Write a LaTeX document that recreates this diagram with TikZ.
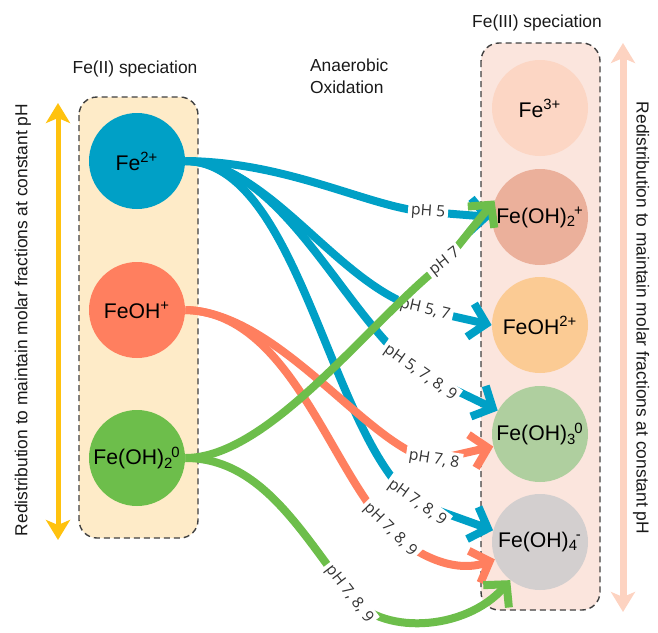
\documentclass[tikz,border=0pt]{standalone}
\usepackage{fontspec}
\setmainfont{Liberation Sans}
\newfontfamily\phfont{Open Sans}
\usetikzlibrary{arrows.meta}
\newcommand{\subsup}[2]{\textsubscript{#1}\kern-0.1em\textsuperscript{#2}}
\definecolor{fetwo}{HTML}{00A0C6}
\definecolor{fetwooh}{HTML}{FF7F5F}
\definecolor{fetwoohtwo}{HTML}{6DBE4B}
\definecolor{fethree}{HTML}{FCD6C4}
\definecolor{fethreeohtwo}{HTML}{EBB09B}
\definecolor{fethreeoh}{HTML}{FBCB94}
\definecolor{fethreeohthree}{HTML}{AFCF9F}
\definecolor{fethreeohfour}{HTML}{D3CFCF}
\definecolor{leftbox}{HTML}{FEEBC8}
\definecolor{rightbox}{HTML}{FBE5DD}
\definecolor{sideyellow}{HTML}{FFC20E}
\definecolor{sidepink}{HTML}{FDD3C1}

\begin{document}
\begin{tikzpicture}[x=0.5pt,y=-0.5pt,
  species/.style={circle,minimum size=48pt,inner sep=0pt,font=\fontsize{10.6}{12}\selectfont},
  groupbox/.style={draw=black!75,dash pattern=on 3pt off 2pt,line width=0.7pt,rounded corners=9pt},
  flow/.style={line width=4pt,-{Straight Barb[length=8pt,width=17pt]}},
  phlabel/.style={fill=white,inner sep=1.5pt,sloped,pos=1,text=black!80,font=\phfont\fontsize{7.8}{8}\selectfont},
  title/.style={text=black!90,font=\fontsize{8.7}{11}\selectfont},
  sidearrow/.style={line width=2.5pt,{Stealth[length=10pt,width=12pt,inset=2.5pt]}-{Stealth[length=10pt,width=12pt,inset=2.5pt]}}]
  \useasboundingbox (0,0) rectangle (658,632);

  \draw[groupbox,fill=leftbox] (79,97) rectangle (198,538);
  \draw[groupbox,fill=rightbox] (481,43) rectangle (600,610);

  \node[title] (lefttitle) at (135,69) {Fe(II) speciation};
  \node[title,align=left,anchor=west] (oxtitle) at (303,76) {Anaerobic\\Oxidation};
  \node[title] (righttitle) at (537,23) {Fe(III) speciation};

  \node[species,fill=fetwo] (fe2) at (137,161) {Fe\textsuperscript{2+}};
  \node[species,fill=fetwooh] (fe2oh) at (137,310) {FeOH\textsuperscript{+}};
  \node[species,fill=fetwoohtwo] (fe2oh2) at (137,458) {Fe(OH)\subsup{2}{0}};

  \node[species,fill=fethree] (fe3) at (540,108) {Fe\textsuperscript{3+}};
  \node[species,fill=fethreeohtwo] (fe3oh2) at (540,217) {Fe(OH)\subsup{2}{+}};
  \node[species,fill=fethreeoh] (fe3oh) at (540,325) {FeOH\textsuperscript{2+}};
  \node[species,fill=fethreeohthree] (fe3oh3) at (540,434) {Fe(OH)\subsup{3}{0}};
  \node[species,fill=fethreeohfour] (fe3oh4) at (540,542) {Fe(OH)\subsup{4}{-}};

  \coordinate (ltop) at (58,103);
  \coordinate (lbot) at (58,540);
  \draw[sidearrow,color=sideyellow] (ltop) -- (lbot);
  \node[title,rotate=90] (lefttext) at (23,320) {Redistribution to maintain molar fractions at constant pH};
  \coordinate (rtop) at (623,43);
  \coordinate (rbot) at (623,612);
  \draw[sidearrow,line width=3.5pt,color=sidepink] (rtop) -- (rbot);
  \node[title,rotate=-90] (righttext) at (641,318) {Redistribution to maintain molar fractions at constant pH};

  \draw[flow,fetwo] (fe2.east) .. controls (290,162) and (370,208) .. (428,212) node[phlabel] {pH 5} -- (fe3oh2.west);
  \draw[flow,fetwo] (fe2.east) .. controls (270,162) and (340,290) .. (425,310) node[phlabel] {pH 5, 7} -- (fe3oh.west);
  \draw[flow,fetwo] (fe2.east) .. controls (285,162) and (345,320) .. (420,373) node[phlabel] {pH 5, 7, 8, 9} -- (fe3oh3.151);
  \draw[flow,fetwo] (fe2.east) .. controls (300,162) and (330,440) .. (417,503) node[phlabel] {pH 7, 8, 9} -- (fe3oh4.166);

  \draw[flow,fetwooh] (fe2oh.east) .. controls (280,312) and (370,450) .. (434,460) node[phlabel] {pH 7, 8} -- (fe3oh3.195);
  \draw[flow,fetwooh] (fe2oh.east) .. controls (290,312) and (330,470) .. (390,530) node[phlabel] {pH 7, 8, 9} .. controls (415,555) and (455,574) .. (fe3oh4.201);

  \draw[flow,fetwoohtwo] (fe2oh2.east) .. controls (270,458) and (370,320) .. (445,262) node[phlabel] {pH 7} -- (fe3oh2.160);
  \draw[flow,fetwoohtwo] (fe2oh2.east) .. controls (260,458) and (300,530) .. (349,594) node[phlabel] {pH 7, 8, 9} .. controls (378,636) and (465,632) .. (fe3oh4.232);
\end{tikzpicture}
\end{document}
